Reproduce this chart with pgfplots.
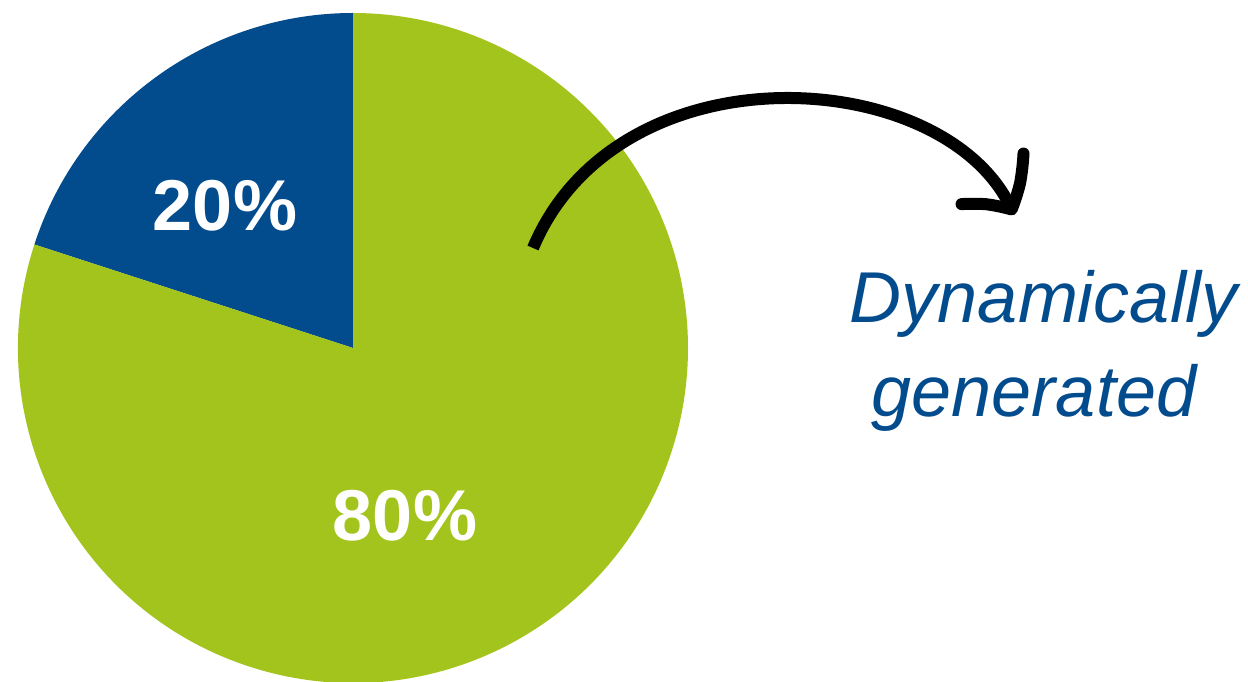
\documentclass[border=0pt]{standalone}
\usepackage{fontspec}
\setmainfont{Liberation Sans}
\usepackage{pgfplots}
\usepackage{pgfplotstable}
\pgfplotsset{compat=1.18}
\usetikzlibrary{arrows.meta,bending}
\definecolor{piegreen}{HTML}{A3C41C}
\definecolor{pieblue}{HTML}{024B8D}
\pgfplotstableread{
label share
Blue 20
Green 80
}\piedata
\begin{document}
\begin{tikzpicture}
\pgfplotstablegetelem{0}{share}\of\piedata \let\sA\pgfplotsretval
\pgfplotstablegetelem{1}{share}\of\piedata \let\sB\pgfplotsretval
\pgfmathsetmacro\aStart{90}
\pgfmathsetmacro\aMid{90+3.6*\sA}
\pgfmathsetmacro\aEnd{\aMid+3.6*\sB}
\begin{axis}[hide axis, scale only axis, width=624pt, height=340.5pt,
  xmin=0, xmax=1248, ymin=0, ymax=681, clip=true]
% pie slices, centre (353,333), radius 335 units = 167.5pt
\fill[pieblue] (axis cs:353,333) -- ++(\aStart:167.5pt) arc[start angle=\aStart, end angle=\aMid, radius=167.5pt] -- cycle;
\fill[piegreen] (axis cs:353,333) -- ++(\aMid:167.5pt) arc[start angle=\aMid, end angle=\aEnd, radius=167.5pt] -- cycle;
\node[white, font=\bfseries\fontsize{36}{40}\selectfont] at (axis cs:225,475) {\sA\%};
\node[white, font=\bfseries\fontsize{36}{40}\selectfont] at (axis cs:405,165) {\sB\%};
% arrow
\draw[line width=6pt, -{Straight Barb[length=18pt,width=40pt,round,bend]}]
  (axis cs:533,433) .. controls (axis cs:620,640) and (axis cs:955,615) .. (axis cs:1014,466);
\node[pieblue, anchor=base, font=\itshape\fontsize{36}{40}\selectfont] at (axis cs:1044,358) {Dynamically};
\node[pieblue, anchor=base, font=\itshape\fontsize{36}{40}\selectfont] at (axis cs:1034,264) {generated};
\end{axis}
\pgfresetboundingbox
\path[use as bounding box] (current axis.south west) rectangle (current axis.north east);
\end{tikzpicture}
\end{document}
